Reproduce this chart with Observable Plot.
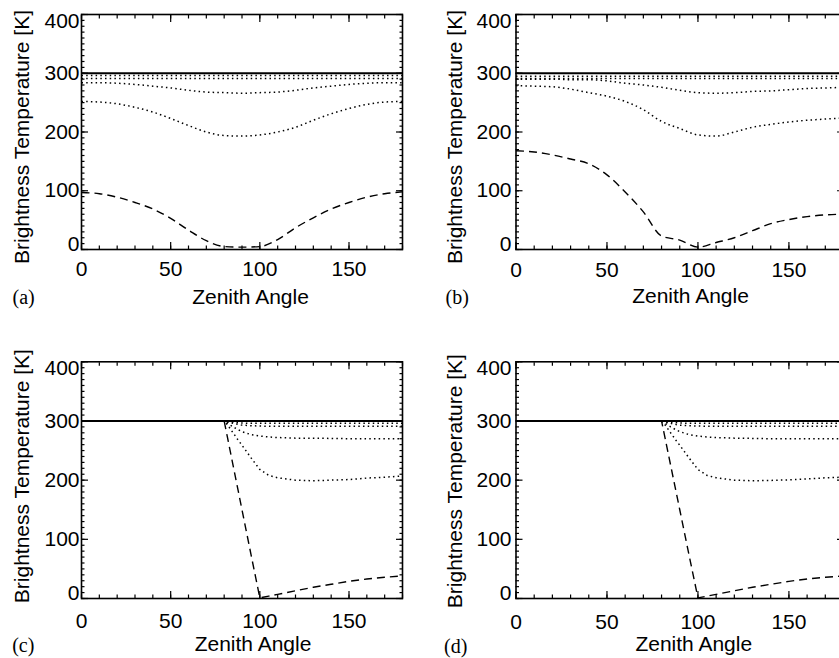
<!DOCTYPE html>
<html>
<head>
<meta charset="utf-8">
<script src="https://cdn.jsdelivr.net/npm/d3@7"></script>
<script src="https://cdn.jsdelivr.net/npm/@observablehq/plot@0.6"></script>
<style>
  html, body { margin: 0; padding: 0; background: #fff; overflow: hidden; }
  #wrap { position: relative; width: 839px; height: 658px; overflow: hidden; background: #fff; }
</style>
</head>
<body>
<div id="wrap"></div>
<script>
// ---------- data ----------
const anglesAB = [0, 10, 20, 30, 40, 50, 60, 70, 80, 90, 100, 110, 120, 130, 140, 150, 160, 170, 180];
const anglesCD = [0, 40, 80, 82, 85, 88, 90, 95, 100, 105, 110, 120, 130, 140, 150, 160, 170, 180];

// panel (a)
const aSolid = [300, 300, 300, 300, 300, 300, 300, 300, 300, 300, 300, 300, 300, 300, 300, 300, 300, 300, 300];
const aDot1  = [296, 296, 296, 296, 296, 296, 296, 296, 296, 296, 296, 296, 296, 296, 296, 296, 296, 296, 296];
const aDot2  = [291, 291, 291, 291, 291, 291, 291, 291, 291, 291, 291, 291, 291, 291, 291, 291, 291, 291, 291];
const aDot3  = [284, 284, 283, 281, 278, 275, 271, 268, 267, 266, 267, 268, 271, 275, 278, 281, 283, 284, 284];
const aDot4  = [252, 251, 248, 242, 234, 223, 211, 200, 194, 193, 195, 200, 208, 220, 231, 240, 247, 251, 252];
const aDash  = [97, 95, 89, 80, 69, 53, 33, 15, 5, 4, 5, 17, 37, 54, 69, 80, 89, 95, 98];

// panel (b)
const bSolid = [300, 300, 300, 300, 300, 300, 300, 300, 300, 300, 300, 300, 300, 300, 300, 300, 300, 300, 300];
const bDot1  = [295, 295, 295, 295, 295, 295, 295, 295, 295, 295, 295, 295, 295, 295, 295, 295, 295, 295, 295];
const bDot2  = [291, 291, 291, 291, 291, 291, 291, 291, 291, 291, 291, 291, 291, 291, 291, 291, 291, 291, 291];
const bDot3  = [290, 290, 290, 289, 289, 287, 283, 280, 276, 271, 267, 266, 267, 269, 270, 272, 274, 275, 276];
const bDot4  = [279, 278, 277, 273, 267, 261, 252, 238, 218, 206, 195, 193, 200, 208, 213, 217, 220, 222, 224];
const bDash  = [168, 166, 161, 154, 146, 127, 98, 64, 23, 16, 4, 12, 20, 32, 44, 51, 56, 59, 60];

// panel (c)
const cSolid = [300, 300, 300, 300, 300, 300, 300, 300, 300, 300, 300, 300, 300, 300, 300, 300, 300, 300];
const cDot1  = [300, 300, 300, 299, 298, 297, 296.5, 296, 296, 296, 296, 296, 296, 296, 296, 296, 296, 296];
const cDot2  = [300, 300, 300, 298, 296, 294, 293, 292, 291.5, 291, 291, 291, 291, 291, 291, 291, 291, 291];
const cDot3  = [300, 300, 300, 296, 290, 285, 282, 277, 274.5, 273, 272, 271, 271, 270.5, 270, 270, 270, 270];
const cDot4  = [300, 300, 300, 293, 280, 267, 259, 238, 218, 208, 204, 200, 199, 200, 201, 203.5, 205, 207];
const cDash  = [300, 300, 300, 270, 225, 180, 150, 75, 1, 4, 7, 13, 19, 24, 29, 33, 36, 38];

// panel (d)
const dSolid = [300, 300, 300, 300, 300, 300, 300, 300, 300, 300, 300, 300, 300, 300, 300, 300, 300, 300];
const dDot1  = [300, 300, 300, 299, 298, 297, 296.5, 296, 296, 296, 296, 296, 296, 296, 296, 296, 296, 296];
const dDot2  = [300, 300, 300, 298, 296, 294, 293, 292, 291.5, 291, 291, 291, 291, 291, 291, 291, 291, 291];
const dDot3  = [300, 300, 300, 296, 290, 285, 282, 277, 274.5, 273, 272, 271, 270.5, 270, 270, 270, 270, 270];
const dDot4  = [300, 300, 300, 293, 280, 267, 259, 238, 218, 208, 204, 200, 199, 199.5, 200.5, 202, 204, 205];
const dDash  = [300, 300, 300, 270, 225, 180, 150, 75, 1, 4, 7, 13, 19, 24, 29, 33, 36, 38];

// axes / text
const xMajor = [0, 50, 100, 150];
const xMinor = [0, 10, 20, 30, 40, 50, 60, 70, 80, 90, 100, 110, 120, 130, 140, 150, 160, 170, 180];
const yMid = [100, 200, 300];
const yTop = [400];
const yBottom = [0];
const yMajor = [0, 100, 200, 300, 400];
const yMinor = d3.range(0, 401, 10);
const xTitle = "Zenith Angle";
const yTitle = "Brightness Temperature [K]";
const letters = ["(a)", "(b)", "(c)", "(d)"];

// ---------- drawing ----------
const lineStyles = {
  solid: {strokeWidth: 2},
  dot: {strokeWidth: 1.5, strokeDasharray: "1.5,3.2"},
  dash: {strokeWidth: 1.4, strokeDasharray: "8,5"}
};

const panels = [
  {angles: anglesAB, curve: "monotone-x", series: [["dot", aDot1], ["dot", aDot2], ["dot", aDot3], ["dot", aDot4], ["dash", aDash], ["solid", aSolid]],
   letter: letters[0], left: 0, top: 0, w: 420, h: 328, ml: 81, mr: 18, mt: 14, mb: 79,
   xPad: 12, yPad: 2, xt: [8.5, 47.5], yt: [-59, 5], lt: [-69, 48.5]},
  {angles: anglesAB, curve: "monotone-x", series: [["dot", bDot1], ["dot", bDot2], ["dot", bDot3], ["dot", bDot4], ["dash", bDash], ["solid", bSolid]],
   letter: letters[1], left: 420, top: 0, w: 430, h: 328, ml: 95.5, mr: 7, mt: 14, mb: 79,
   xPad: 12.5, yPad: 4.5, xt: [10.75, 47], yt: [-60.5, 5], lt: [-70.5, 48.5]},
  {angles: anglesCD, curve: "linear", series: [["dot", cDot1], ["dot", cDot2], ["dot", cDot3], ["dot", cDot4], ["dash", cDash], ["solid", cSolid]],
   letter: letters[2], left: 0, top: 328, w: 420, h: 330, ml: 81, mr: 18, mt: 33.3, mb: 60,
   xPad: 15, yPad: 2, xt: [11, 46], yt: [-59.3, -4], lt: [-69.3, 46.7]},
  {angles: anglesCD, curve: "linear", series: [["dot", dDot1], ["dot", dDot2], ["dot", dDot3], ["dot", dDot4], ["dash", dDash], ["solid", dSolid]],
   letter: letters[3], left: 420, top: 328, w: 430, h: 330, ml: 95.5, mr: 7, mt: 33.3, mb: 60,
   xPad: 16, yPad: 4.5, xt: [14, 46], yt: [-60.8, 1], lt: [-72, 48]}
];

const wrap = document.getElementById("wrap");
const sans = "'Liberation Sans', Arial, Helvetica, sans-serif";
const serif = "'Liberation Serif', 'Times New Roman', serif";

for (const p of panels) {
  const lineMarks = p.series.map(([kind, vals]) => {
    const rows = vals.map((v, i) => ({x: p.angles[i], y: v}));
    return Plot.line(rows, {x: "x", y: "y", stroke: "black", strokeLinecap: "butt", curve: p.curve, ...lineStyles[kind]});
  });
  const tickOpts = {fill: "none", label: null, strokeWidth: 1.2};
  const txtY = {anchor: "left", tickSize: 0, tickPadding: p.yPad, label: null, fontSize: 21};
  const svg = Plot.plot({
    width: p.w, height: p.h,
    marginLeft: p.ml, marginRight: p.mr, marginTop: p.mt, marginBottom: p.mb,
    x: {domain: [0, 180]},
    y: {domain: [0, 400]},
    style: {fontFamily: sans, fontSize: "21px", color: "black", background: "transparent", overflow: "visible"},
    marks: [
      ...lineMarks,
      Plot.frame({strokeWidth: 1.6, stroke: "black"}),
      Plot.axisX(xMinor, {anchor: "bottom", tickSize: -3.5, ...tickOpts}),
      Plot.axisX(xMajor, {anchor: "bottom", tickSize: -7, ...tickOpts}),
      Plot.axisX(xMinor, {anchor: "top", tickSize: -3.5, ...tickOpts}),
      Plot.axisX(xMajor, {anchor: "top", tickSize: -7, ...tickOpts}),
      Plot.axisY(yMinor, {anchor: "left", tickSize: -3.5, ...tickOpts}),
      Plot.axisY(yMajor, {anchor: "left", tickSize: -7, ...tickOpts}),
      Plot.axisY(yMinor, {anchor: "right", tickSize: -3.5, ...tickOpts}),
      Plot.axisY(yMajor, {anchor: "right", tickSize: -7, ...tickOpts}),
      Plot.axisX(xMajor, {anchor: "bottom", tickSize: 0, tickPadding: p.xPad, label: null, fontSize: 21}),
      Plot.axisY(yMid, txtY),
      Plot.axisY(yTop, {...txtY, dy: 6.5}),
      Plot.axisY(yBottom, {...txtY, dy: -5.5}),
      Plot.text([xTitle], {text: d => d, frameAnchor: "bottom", textAnchor: "middle", dx: p.xt[0], dy: p.xt[1], lineAnchor: "middle", fontSize: 21, fill: "black"}),
      Plot.text([yTitle], {text: d => d, frameAnchor: "left", textAnchor: "middle", rotate: -90, dx: p.yt[0], dy: p.yt[1], lineAnchor: "middle", fontSize: 21, fill: "black"}),
      Plot.text([p.letter], {text: d => d, frameAnchor: "bottom-left", textAnchor: "start", dx: p.lt[0], dy: p.lt[1], lineAnchor: "middle", fontSize: 20, fontFamily: serif, fill: "black"})
    ]
  });
  svg.style.position = "absolute";
  svg.style.left = p.left + "px";
  svg.style.top = p.top + "px";
  wrap.appendChild(svg);
}
</script>
</body>
</html>
